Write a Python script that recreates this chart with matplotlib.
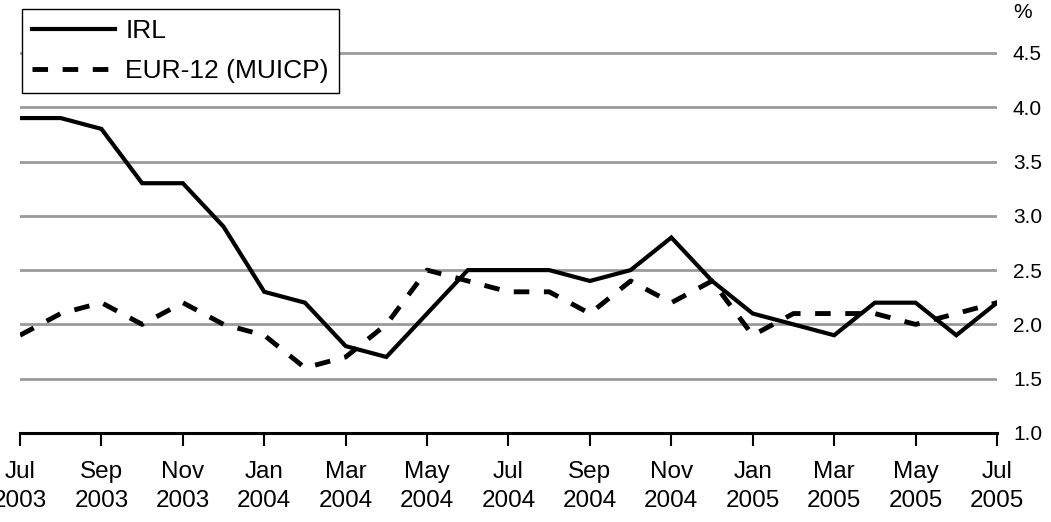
import matplotlib
matplotlib.use("Agg")
import matplotlib.pyplot as plt
import numpy as np

plt.rcParams['font.family'] = ['Liberation Sans', 'DejaVu Sans']

months = ["Jul 2003", "Aug 2003", "Sep 2003", "Oct 2003", "Nov 2003", "Dec 2003",
          "Jan 2004", "Feb 2004", "Mar 2004", "Apr 2004", "May 2004", "Jun 2004",
          "Jul 2004", "Aug 2004", "Sep 2004", "Oct 2004", "Nov 2004", "Dec 2004",
          "Jan 2005", "Feb 2005", "Mar 2005", "Apr 2005", "May 2005", "Jun 2005",
          "Jul 2005"]
irl = [3.9, 3.9, 3.8, 3.3, 3.3, 2.9, 2.3, 2.2, 1.8, 1.7, 2.1, 2.5, 2.5,
       2.5, 2.4, 2.5, 2.8, 2.4, 2.1, 2.0, 1.9, 2.2, 2.2, 1.9, 2.2]
eur12 = [1.9, 2.1, 2.2, 2.0, 2.2, 2.0, 1.9, 1.6, 1.7, 2.0, 2.5, 2.4, 2.3,
         2.3, 2.1, 2.4, 2.2, 2.4, 1.9, 2.1, 2.1, 2.1, 2.0, 2.1, 2.2]
yticks = [1.0, 1.5, 2.0, 2.5, 3.0, 3.5, 4.0, 4.5]

W, H = 1051, 522
fig = plt.figure(figsize=(W / 100, H / 100), dpi=100)
x0, x1 = 20, 997
y_bottom = 433
ppu = 108.6
ymax = 4.9
y_top = y_bottom - (ymax - 1.0) * ppu
ax = fig.add_axes([x0 / W, 1 - y_bottom / H, (x1 - x0) / W, (y_bottom - y_top) / H])

x = np.arange(len(months))
for yv in yticks[1:]:
    ax.axhline(yv, color='#9a9a9a', lw=2.0, zorder=1)

ax.plot(x, irl, color='black', lw=3.0, solid_joinstyle='miter', label='IRL', zorder=3)
ax.plot(x, eur12, color='black', lw=3.5, dashes=(3.2, 3.0), label='EUR-12 (MUICP)', zorder=3)

ax.set_xlim(0, len(months) - 1)
ax.set_ylim(1.0, ymax)

for s in ['top', 'left', 'right']:
    ax.spines[s].set_visible(False)
ax.spines['bottom'].set_linewidth(2.2)
ax.spines['bottom'].set_color('black')

tick_pos = x[::2]
tick_labels = [m.replace(" ", "\n") for m in months[::2]]
ax.set_xticks(tick_pos)
ax.set_xticklabels(tick_labels, fontsize=17.5, linespacing=1.4)
ax.tick_params(axis='x', direction='out', length=9, width=1.5, pad=11, color='black')

ax.yaxis.tick_right()
ax.set_yticks(yticks)
ax.set_yticklabels([f"{v:.1f}" for v in yticks], fontsize=15)
ax.tick_params(axis='y', length=0, pad=11.5)

fig.text(1013 / W, 1 - 13 / H, "%", fontsize=15, ha='left', va='center')

leg = ax.legend(loc='upper left', bbox_to_anchor=(2 / (x1 - x0), 1.0), fontsize=19,
                frameon=True, fancybox=False, edgecolor='black', framealpha=1,
                handlelength=3.15, handletextpad=0.38, borderpad=0.38,
                labelspacing=0.6, borderaxespad=0)
leg.get_frame().set_linewidth(1.0)

fig.savefig("out.png", dpi=100)
